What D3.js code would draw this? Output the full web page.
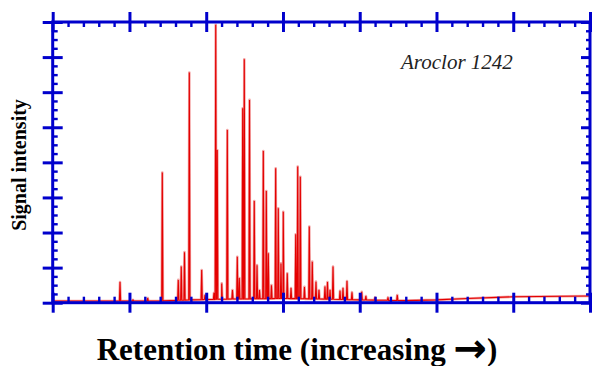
<!DOCTYPE html>
<html>
<head>
<meta charset="utf-8">
<script src="https://cdn.jsdelivr.net/npm/d3@7"></script>
<style>
  body { margin: 0; background: #fff; }
  svg { display: block; }
</style>
</head>
<body>
<script>
  // peak retention times (arbitrary units, 0-70) and peak tops (0-8)
  const peakTimes = [8.77, 10.46, 12.38, 14.28, 16.36, 16.75, 17.17, 17.80, 19.41, 19.84,
    21.01, 21.24, 21.44, 22.02, 22.75, 23.42, 24.05, 24.31, 24.75, 24.96,
    25.64, 26.26, 26.62, 26.94, 27.44, 27.83, 28.09, 28.50, 29.05, 29.39,
    29.74, 30.04, 30.56, 31.05, 31.66, 31.92, 32.26, 32.80, 33.43, 33.82,
    34.30, 34.69, 35.47, 35.80, 36.13, 36.52, 37.43, 37.82, 38.34, 38.99,
    40.26, 40.80, 41.99, 43.68, 44.89];
  const peakHeights = [0.59, 0.08, 0.13, 3.71, 0.65, 1.03, 1.44, 6.56, 0.93, 0.22,
    0.28, 7.92, 4.35, 0.55, 4.92, 0.36, 1.31, 0.70, 5.54, 6.94,
    5.78, 2.90, 1.07, 0.36, 4.32, 3.18, 1.41, 0.50, 3.83, 2.69,
    1.12, 2.59, 0.84, 0.42, 1.95, 3.88, 3.59, 0.45, 2.17, 1.17,
    0.60, 0.36, 0.46, 0.59, 0.36, 1.03, 0.34, 0.42, 0.62, 0.30,
    0.31, 0.19, 0.15, 0.15, 0.22];

  // baseline drift
  const baseTimes = [0, 14, 18, 22, 30, 36, 40, 46, 50, 54, 60, 70];
  const baseLevels = [0.05, 0.05, 0.08, 0.10, 0.12, 0.10, 0.08, 0.06, 0.08, 0.12, 0.17, 0.19];

  const xMajor = d3.range(0, 71, 10);
  const xMinor = d3.range(0, 71, 2).filter(v => v % 10 !== 0);
  const yMajor = d3.range(0, 8.1, 1);
  const yMinor = d3.range(0, 8.1, 0.25).filter(v => v % 1 !== 0);

  const width = 592;
  const height = 366;
  const blue = '#0000cc';

  const svg = d3.select('body')
          .append('svg')
          .attr('width', width)
          .attr('height', height);

  const x = d3.scaleLinear().domain([0, 70]).range([52.7, 590]);
  const y = d3.scaleLinear().domain([0, 8]).range([302.7, 22]);
  const baseAt = d3.scaleLinear().domain(baseTimes).range(baseLevels);

  // trace points: baseline points plus a narrow spike per peak
  const hw = 0.08;
  let pts = baseTimes.map((t, i) => [t, baseLevels[i]]);
  peakTimes.forEach((t, i) => {
    pts.push([t - hw, baseAt(t - hw)]);
    pts.push([t, peakHeights[i]]);
    pts.push([t + hw, baseAt(t + hw)]);
  });
  pts.sort((a, b) => a[0] - b[0]);

  const line = d3.line()
          .x(d => x(d[0]))
          .y(d => y(d[1]));

  svg.append('path')
          .datum(pts)
          .attr('fill', 'none')
          .attr('stroke', '#f3a3a3')
          .attr('stroke-width', 2.6)
          .attr('stroke-linejoin', 'round')
          .attr('d', line);

  svg.append('path')
          .datum(pts)
          .attr('fill', 'none')
          .attr('stroke', '#e40000')
          .attr('stroke-width', 1.1)
          .attr('d', line);

  // axes: minor ticks inside, major ticks crossing the frame
  function drawAxis(axisFn, scale, pos, minor, major, inner, outer) {
    const g1 = svg.append('g').attr('transform', pos)
            .call(axisFn(scale).tickValues(minor).tickSize(-inner[0]).tickSizeOuter(0).tickFormat(''));
    const g2 = svg.append('g').attr('transform', pos)
            .call(axisFn(scale).tickValues(major).tickSize(outer).tickSizeOuter(0).tickFormat(''));
    const horiz = axisFn === d3.axisBottom || axisFn === d3.axisTop;
    const sgn = (axisFn === d3.axisBottom || axisFn === d3.axisRight) ? 1 : -1;
    g2.selectAll('.tick line').attr(horiz ? 'y1' : 'x1', -sgn * inner[1]);
    [g1, g2].forEach(g => {
      g.select('.domain').remove();
      g.selectAll('line').attr('stroke', blue);
    });
    g1.selectAll('line').attr('stroke-width', 2.4);
    g2.selectAll('line').attr('stroke-width', 3);
  }

  drawAxis(d3.axisBottom, x, `translate(0,${y(0)})`, xMinor, xMajor, [6, 10], 10);
  drawAxis(d3.axisTop, x, `translate(0,${y(8)})`, xMinor, xMajor, [5, 10], 10);
  drawAxis(d3.axisLeft, y, `translate(${x(0)},0)`, yMinor, yMajor, [5, 10], 10);
  drawAxis(d3.axisRight, y, `translate(${x(70)},0)`, yMinor, yMajor, [4, 9], 0);

  svg.append('rect')
          .attr('x', x(0))
          .attr('y', y(8))
          .attr('width', x(70) - x(0))
          .attr('height', y(0) - y(8))
          .attr('fill', 'none')
          .attr('stroke', blue)
          .attr('stroke-width', 3);

  svg.append('text')
          .attr('transform', 'translate(26,165) rotate(-90)')
          .attr('text-anchor', 'middle')
          .attr('font-family', 'Liberation Serif, serif')
          .attr('font-weight', 'bold')
          .attr('font-size', '20px')
          .text('Signal intensity');

  svg.append('text')
          .attr('x', 401)
          .attr('y', 69)
          .attr('font-family', 'Liberation Serif, serif')
          .attr('font-style', 'italic')
          .attr('font-size', '21px')
          .attr('fill', '#222')
          .text('Aroclor 1242');

  const xl = svg.append('text')
          .attr('x', 297)
          .attr('y', 360)
          .attr('text-anchor', 'middle')
          .attr('font-family', 'Liberation Serif, serif')
          .attr('font-weight', 'bold')
          .attr('font-size', '31px');
  xl.append('tspan').text('Retention time (increasing ');
  xl.append('tspan')
          .attr('font-family', 'DejaVu Sans, sans-serif')
          .attr('font-size', '40px')
          .attr('dy', 2)
          .text('\u2192');
  xl.append('tspan').attr('dy', -2).text(')');
</script>
</body>
</html>
